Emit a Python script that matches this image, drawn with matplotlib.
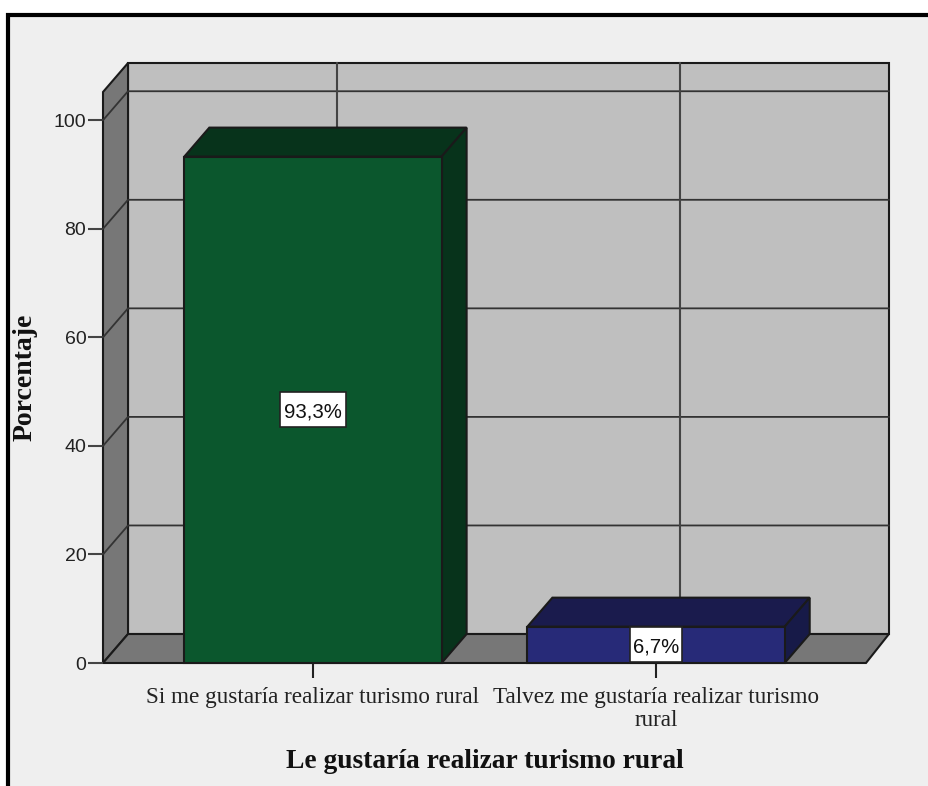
import matplotlib
matplotlib.use('Agg')
import matplotlib.pyplot as plt
from matplotlib.patches import Polygon, Rectangle

categorias = ['Si me gustaría realizar turismo rural', 'Talvez me gustaría realizar turismo\nrural']
porcentajes = [93.3, 6.7]
etiquetas = ['93,3%', '6,7%']
colores = ['#0b572d', '#272a78']
colores_top = ['#07331b', '#1a1b4d']
colores_lado = ['#07331b', '#171a48']
ticks_y = [0, 20, 40, 60, 80, 100]

W, H = 929, 786
plt.rcParams['font.family'] = ['Liberation Serif', 'DejaVu Serif']
sans = ['Liberation Sans']

fig = plt.figure(figsize=(W / 100, H / 100), dpi=100, facecolor='white')

# fondo y marco (derecha y abajo quedan fuera del lienzo)
fig.add_artist(Rectangle((8 / W, -0.02), 1.02, 1.02 - 15 / H, transform=fig.transFigure,
                         facecolor='#efefef', edgecolor='black', linewidth=3, zorder=-1))

ax = fig.add_axes([103 / W, 1 - 663 / H, 763 / W, 571 / H])
ax.set_xlim(-0.612, 1.612)
ax.set_ylim(0, 105.2)
ax.patch.set_visible(False)
for s in ax.spines.values():
    s.set_visible(False)

# profundidad 3D en unidades de datos
dx = 0.0729
dy = 5.34
x0, x1 = ax.get_xlim()
y0, y1 = ax.get_ylim()
x1_fondo = x1 + dx - 0.006
linea = '#1a1a1a'


def poli(puntos, color, z=1, lw=1.5):
    ax.add_patch(Polygon(puntos, closed=True, facecolor=color, edgecolor=linea,
                         linewidth=lw, zorder=z, clip_on=False, joinstyle='miter'))


# paredes
poli([(x0 + dx, y0 + dy), (x1_fondo, y0 + dy), (x1_fondo, y1 + dy), (x0 + dx, y1 + dy)], '#bfbfbf')
poli([(x0, y0), (x0 + dx, y0 + dy), (x0 + dx, y1 + dy), (x0, y1)], '#777777')
poli([(x0, y0), (x1, y0), (x1_fondo, y0 + dy), (x0 + dx, y0 + dy)], '#777777')

# rejilla de la pared
for t in ticks_y[1:]:
    ax.plot([x0, x0 + dx, x1_fondo], [t, t + dy, t + dy], color='#333333', lw=1.3, zorder=2, clip_on=False)
for i in range(len(categorias)):
    ax.plot([i + dx - 0.003, i + dx - 0.003], [y0 + dy, y1 + dy], color='#444444', lw=1.5, zorder=2, clip_on=False)

# barras
ancho = 0.75
for i, v in enumerate(porcentajes):
    a = i - ancho / 2
    b = i + ancho / 2
    poli([(a, v), (a + dx, v + dy), (b + dx, v + dy), (b, v)], colores_top[i], z=3)
    poli([(b, 0), (b + dx, dy), (b + dx, v + dy), (b, v)], colores_lado[i], z=3)
    ax.add_patch(Rectangle((a, 0), ancho, v, facecolor=colores[i], edgecolor=linea,
                           linewidth=1.5, zorder=4, clip_on=False))
    # caja de la etiqueta, mas alta que el texto
    ancho_caja = len(etiquetas[i]) * 0.038
    alto_caja = 6.5
    ax.add_patch(Rectangle((i - ancho_caja / 2, v / 2 - alto_caja / 2), ancho_caja, alto_caja,
                           facecolor='white', edgecolor='#222222', linewidth=1.2, zorder=5, clip_on=False))
    ax.text(i, v / 2, etiquetas[i], ha='center', va='center_baseline', fontsize=14.7, family=sans,
            color='#111111', zorder=6)

ax.set_xticks(range(len(categorias)))
ax.set_xticklabels(categorias, fontsize=16.7, color='#222222', linespacing=1.15)
ax.set_yticks(ticks_y)
ax.set_yticklabels([str(t) for t in ticks_y], fontsize=14, color='#222222', family=sans)
ax.tick_params(axis='x', length=11, width=1.5, color='#222222', pad=6)
ax.tick_params(axis='y', length=11, width=1.5, color='#444444', pad=1)

fig.text(25 / W, 1 - 377 / H, 'Porcentaje', rotation=90, ha='center', va='center',
         fontsize=20, fontweight='bold', color='#111111')
fig.text(485 / W, 1 - 761 / H, 'Le gustaría realizar turismo rural', ha='center', va='center',
         fontsize=19.8, fontweight='bold', color='#111111')

fig.savefig('out.png', dpi=100, facecolor='white')
